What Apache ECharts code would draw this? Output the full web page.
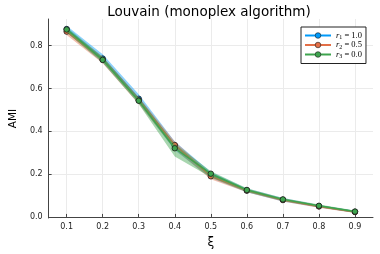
<!DOCTYPE html>
<html>
<head>
<meta charset="utf-8">
<script src="https://cdn.jsdelivr.net/npm/echarts@6/dist/echarts.min.js"></script>
<style>html,body{margin:0;padding:0;background:#fff}#c{width:380px;height:254px}</style>
</head>
<body>
<div id="c"></div>
<script>
const xi = [0.1, 0.2, 0.3, 0.4, 0.5, 0.6, 0.7, 0.8, 0.9];
const xTicks = [0.1, 0.2, 0.3, 0.4, 0.5, 0.6, 0.7, 0.8, 0.9];
const yTicks = [0.0, 0.2, 0.4, 0.6, 0.8];

const blueMean  = [0.878, 0.740, 0.552, 0.332, 0.196, 0.124, 0.080, 0.050, 0.024];
const blueLow   = [0.862, 0.722, 0.532, 0.312, 0.182, 0.115, 0.072, 0.044, 0.019];
const blueHigh  = [0.893, 0.760, 0.573, 0.352, 0.210, 0.133, 0.088, 0.056, 0.029];

const orangeMean = [0.866, 0.734, 0.545, 0.336, 0.190, 0.123, 0.079, 0.049, 0.023];
const orangeLow  = [0.850, 0.718, 0.528, 0.316, 0.176, 0.115, 0.072, 0.043, 0.018];
const orangeHigh = [0.880, 0.748, 0.560, 0.352, 0.202, 0.131, 0.086, 0.055, 0.028];

const greenMean = [0.876, 0.734, 0.543, 0.321, 0.202, 0.126, 0.082, 0.052, 0.025];
const greenLow  = [0.862, 0.720, 0.528, 0.282, 0.186, 0.117, 0.075, 0.046, 0.020];
const greenHigh = [0.888, 0.748, 0.558, 0.342, 0.214, 0.134, 0.089, 0.058, 0.030];

const names = ['r1', 'r2', 'r3'];
const labels = {r1: ['1', '1.0'], r2: ['2', '0.5'], r3: ['3', '0.0']};
const colors = ['#009AFA', '#E36F47', '#3EA44E'];

function pairs(ys) { return xi.map((x, i) => [x, ys[i]]); }

const groups = [
  [blueMean, blueLow, blueHigh],
  [orangeMean, orangeLow, orangeHigh],
  [greenMean, greenLow, greenHigh]
];

const series = [];
groups.forEach((g, k) => {
  const lo = g[1], hi = g[2];
  series.push({
    name: 'band' + k, type: 'custom', silent: true, z: 2 + k * 3,
    clip: true,
    data: [[xi[0], lo[0]]],
    renderItem: function (params, api) {
      const pts = [];
      for (let i = 0; i < xi.length; i++) pts.push(api.coord([xi[i], hi[i]]));
      for (let i = xi.length - 1; i >= 0; i--) pts.push(api.coord([xi[i], lo[i]]));
      return {
        type: 'polygon',
        shape: {points: pts},
        style: {fill: colors[k], opacity: 0.45}
      };
    }
  });
  series.push({
    name: names[k], type: 'line', data: pairs(g[0]),
    symbol: 'circle', symbolSize: 5.5, showSymbol: true,
    lineStyle: {color: colors[k], width: 1.5},
    itemStyle: {color: colors[k], borderColor: '#1a1a1a', borderWidth: 0.8},
    z: 3 + k * 3
  });
});

const chart = echarts.init(document.getElementById('c'), null, {renderer: 'canvas'});
chart.setOption({
  animation: false,
  backgroundColor: '#fff',
  title: {
    text: 'Louvain (monoplex algorithm)', left: 204, textAlign: 'center', top: 0,
    textStyle: {fontFamily: 'DejaVu Sans', fontSize: 13.5, fontWeight: 'normal', color: '#000'}
  },
  legend: {
    data: names, orient: 'vertical', left: 301, top: 27,
    padding: [4, 4, 4, 3], itemGap: 0, itemWidth: 26, itemHeight: 7,
    backgroundColor: '#fff', borderColor: '#222', borderWidth: 1, borderRadius: 0,
    itemStyle: {borderWidth: 0.6},
    formatter: n => '{i|r}{s|' + labels[n][0] + '}{t| = ' + labels[n][1] + '}',
    textStyle: {
      padding: [0, 0, 0, 0],
      rich: {
        i: {fontFamily: 'Liberation Serif', fontStyle: 'italic', fontSize: 8.5, color: '#000'},
        s: {fontFamily: 'Liberation Serif', fontSize: 6, color: '#000', padding: [4, 0, 0, 0]},
        t: {fontFamily: 'Liberation Serif', fontSize: 8.5, color: '#000'}
      }
    }
  },
  grid: {left: 35, right: 7, top: 19, bottom: 29, containLabel: false},
  xAxis: {
    type: 'value', min: 0.05, max: 0.95,
    name: 'ξ', nameLocation: 'middle', nameGap: 19,
    nameTextStyle: {fontFamily: 'DejaVu Sans', fontSize: 12, color: '#000'},
    axisLine: {show: true, lineStyle: {color: '#444', width: 1}},
    axisTick: {show: true, inside: true, length: 3, customValues: xTicks, lineStyle: {color: '#444'}},
    axisLabel: {customValues: xTicks, formatter: v => v.toFixed(1), fontFamily: 'DejaVu Sans', fontSize: 8, color: '#222', margin: 5},
    splitLine: {show: true, lineStyle: {color: '#ebebeb', width: 1}}
  },
  yAxis: {
    type: 'value', min: -0.005, max: 0.925,
    name: 'AMI', nameLocation: 'middle', nameGap: 26, nameRotate: 90,
    nameTextStyle: {fontFamily: 'DejaVu Sans', fontSize: 10.5, color: '#000'},
    axisLine: {show: true, lineStyle: {color: '#444', width: 1}},
    axisTick: {show: true, inside: true, length: 3, customValues: yTicks, lineStyle: {color: '#444'}},
    axisLabel: {customValues: yTicks, formatter: v => v.toFixed(1), fontFamily: 'DejaVu Sans', fontSize: 8, color: '#222', margin: 6},
    splitLine: {show: true, lineStyle: {color: '#ebebeb', width: 1}}
  },
  series: series
});
</script>
</body>
</html>
